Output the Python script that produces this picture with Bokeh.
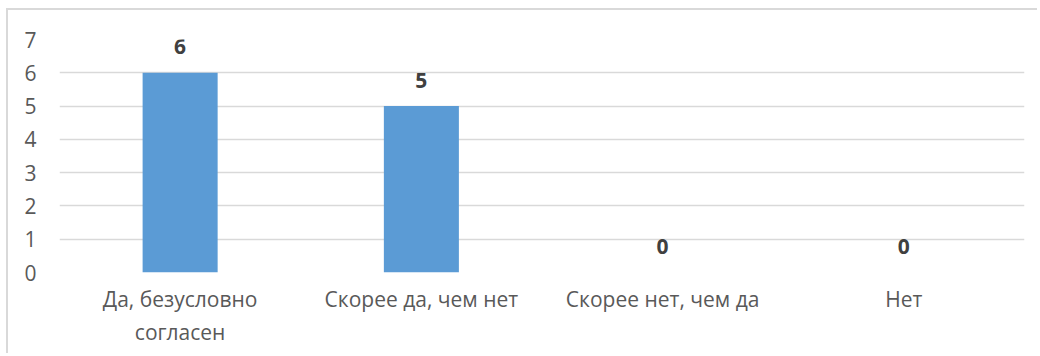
from bokeh.plotting import figure
from bokeh.models import ColumnDataSource, FixedTicker
from bokeh.core.properties import value
from bokeh.embed import file_html
from bokeh.resources import INLINE

categories = ["Да, безусловно\nсогласен", "Скорее да, чем нет", "Скорее нет, чем да", "Нет"]
values = [6, 5, 0, 0]
y_ticks = [0, 1, 2, 3, 4, 5, 6, 7]

FONT = "Open Sans"

src = ColumnDataSource(dict(cat=categories, val=values, lab=[str(v) for v in values]))

p = figure(x_range=categories, y_range=(0, 7), width=1031, height=345,
           output_backend="svg", toolbar_location=None,
           min_border_left=51, min_border_right=15, min_border_top=29, min_border_bottom=83)
p.styles = {"border-top": "2px solid #d9d9d9", "border-left": "2px solid #d9d9d9",
            "margin-left": "6px", "margin-top": "8px"}

p.vbar(x="cat", top="val", width=0.311, source=src, color="#5b9bd5", line_color=None)
p.text(x="cat", y="val", text="lab", source=src, y_offset=-26,
       text_align="center", text_baseline="middle",
       text_font=value(FONT), text_font_size="21px", text_font_style="bold",
       text_color="#404040")

p.outline_line_color = None
p.background_fill_color = "white"
p.border_fill_color = "white"

p.xgrid.grid_line_color = None
p.ygrid.grid_line_color = "#d9d9d9"
p.ygrid.grid_line_width = 1.5
p.yaxis.ticker = FixedTicker(ticks=y_ticks)

for ax in (p.xaxis[0], p.yaxis[0]):
    ax.axis_line_color = None
    ax.major_tick_line_color = None
    ax.minor_tick_line_color = None
    ax.major_tick_out = 0
    ax.major_tick_in = 0
    ax.major_label_text_font = FONT
    ax.major_label_text_font_size = "21px"
    ax.major_label_text_color = "#595959"

p.yaxis.major_label_standoff = 23
p.xaxis.major_label_standoff = 12

open("out.html", "w").write(file_html(p, INLINE))
